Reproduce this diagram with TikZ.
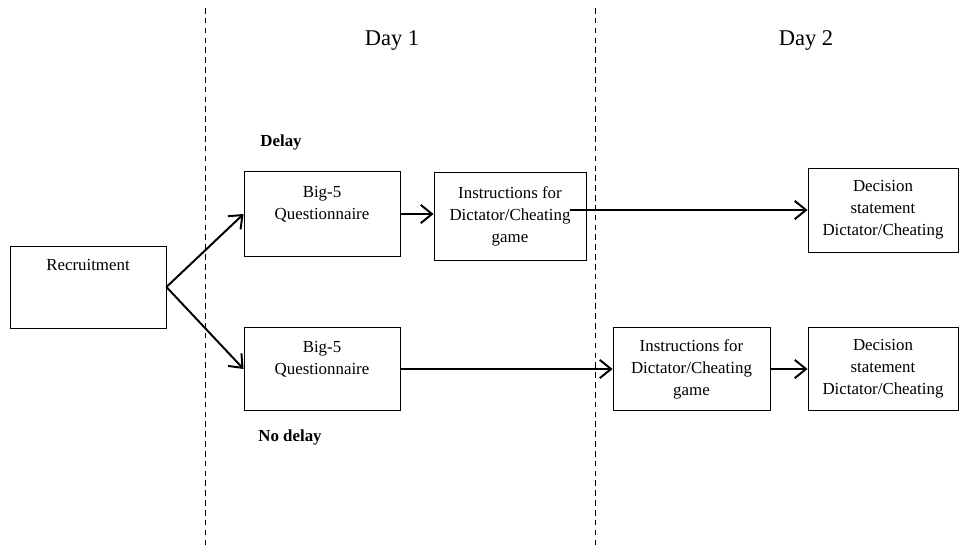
\documentclass[tikz,border=0pt]{standalone}
\usepackage{fontspec}
\setmainfont{Liberation Serif}
\usepackage{tikz}
\usetikzlibrary{positioning, arrows.meta, calc}

\begin{document}
\begin{tikzpicture}[
  x=0.025cm, y=-0.025cm,
  stage/.style={draw, line width=0.6pt, minimum width=3.9cm, minimum height=2.1cm,
                inner sep=2pt, align=center, font=\fontsize{12}{15.6}\selectfont},
  arrow/.style={-{Straight Barb[length=8pt, width=13pt]}, line width=1.4pt},
  divider/.style={line width=0.5pt, dash pattern=on 4pt off 3pt},
  day/.style={font=\fontsize{16}{19}\selectfont},
  lbl/.style={font=\fontsize{12}{14}\selectfont\bfseries}
]
\useasboundingbox (0,0) rectangle (960,549);

% day dividers
\draw[divider] (205,8) -- (205,549);
\draw[divider] (595,8) -- (595,549);
\node[day] (day1) at (392,40) {Day 1};
\node[day] (day2) at (806,40) {Day 2};

% stages
\node[stage, minimum height=2.05cm] (rec) at (88,287) {Recruitment\\ \mbox{}\\ \mbox{}};
\node[stage, minimum height=2.125cm] (big1) at (322,214) {Big-5\\Questionnaire\\ \mbox{}};
\node[stage, minimum width=3.8cm, minimum height=2.2cm] (ins1) at (510,216)
  {Instructions for\\Dictator/Cheating\\game};
\node[stage, minimum width=3.75cm] (dec1) at (883,210)
  {Decision\\statement\\Dictator/Cheating};
\node[stage, minimum height=2.075cm] (big2) at (322,369) {Big-5\\Questionnaire\\ \mbox{}};
\node[stage, minimum width=3.925cm, minimum height=2.075cm] (ins2) at (691.5,369)
  {Instructions for\\Dictator/Cheating\\game};
\node[stage, minimum width=3.75cm, minimum height=2.075cm] (dec2) at (883,369)
  {Decision\\statement\\Dictator/Cheating};

\node[lbl] (delay) at (281,142) {Delay};
\node[lbl] (nodelay) at (290,437) {No delay};

% connectors
\draw[arrow] (rec.east) -- (big1.west);
\draw[arrow] (rec.east) -- (big2.west);
\draw[arrow] (big1.east) -- (ins1.west |- big1.east);
\draw[arrow] ($(dec1.west -| ins1.east)+(-16,0)$) -- (dec1.west);
\draw[arrow] (big2.east) -- (ins2.west);
\draw[arrow] (ins2.east) -- (dec2.west);
\end{tikzpicture}
\end{document}
